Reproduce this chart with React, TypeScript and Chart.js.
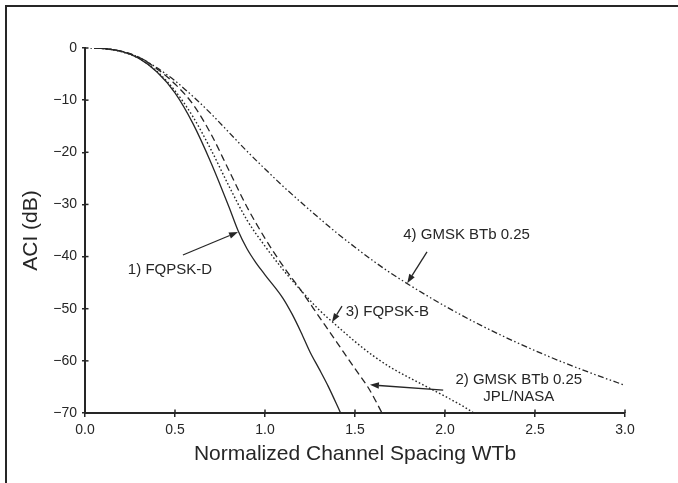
import React, { useEffect, useRef } from "react";
import { Chart, registerables } from "chart.js";

Chart.register(...registerables);

// Axis ticks
const xTickValues = [0, 0.5, 1.0, 1.5, 2.0, 2.5, 3.0];
const yTickValues = [0, -10, -20, -30, -40, -50, -60, -70];

// 1) FQPSK-D (solid)
const fqpskDX = [0.05, 0.1, 0.2, 0.3, 0.4, 0.5, 0.6, 0.7, 0.8, 0.85, 0.9, 0.95, 1.0, 1.1, 1.15, 1.2, 1.25, 1.3, 1.35, 1.42];
const fqpskDY = [0, -0.1, -0.6, -2.0, -4.6, -8.6, -14.5, -22, -30.5, -35, -38.5, -41.2, -43.5, -48, -51, -54.5, -58.3, -61.5, -64.8, -70];

// 2) GMSK BTb 0.25 JPL/NASA (dashed)
const gmskJplX = [0.05, 0.1, 0.2, 0.3, 0.4, 0.5, 0.6, 0.7, 0.8, 0.9, 1.0, 1.1, 1.2, 1.3, 1.4, 1.5, 1.58, 1.65];
const gmskJplY = [0, -0.1, -0.6, -1.8, -4, -6.9, -10.8, -16.5, -23.5, -30.5, -36.5, -41.8, -46.5, -51.5, -56.5, -61.5, -65.5, -70];

// 3) FQPSK-B (dotted)
const fqpskBX = [0.03, 0.1, 0.2, 0.3, 0.4, 0.5, 0.6, 0.7, 0.8, 0.9, 1.0, 1.1, 1.2, 1.3, 1.4, 1.5, 1.6, 1.7, 1.8, 1.9, 2.0, 2.1, 2.16];
const fqpskBY = [0, -0.1, -0.7, -2, -4.5, -8.2, -13.2, -19.5, -26.5, -33, -38, -42.5, -46.5, -50.2, -53.3, -56.3, -59, -61.3, -63.2, -65, -66.8, -68.7, -70];

// 4) GMSK BTb 0.25 (dash-dot-dot)
const gmskX = [0.05, 0.1, 0.2, 0.3, 0.4, 0.5, 0.6, 0.7, 0.8, 0.9, 1.0, 1.1, 1.2, 1.3, 1.4, 1.5, 1.6, 1.7, 1.8, 1.9, 2.0, 2.2, 2.4, 2.6, 2.8, 3.0];
const gmskY = [0, -0.1, -0.6, -1.8, -3.8, -6.3, -9.3, -12.6, -16.2, -19.8, -23.2, -26.5, -29.6, -32.6, -35.5, -38.2, -40.8, -43.2, -45.4, -47.5, -49.5, -53.2, -56.5, -59.5, -62.2, -64.7];

// Annotation labels (data coordinates)
const labelTexts = ["1) FQPSK-D", "2) GMSK BTb 0.25", "JPL/NASA", "3) FQPSK-B", "4) GMSK BTb 0.25"];
const labelX = [0.472, 2.41, 2.41, 1.68, 2.12];
const labelY = [-42.6, -63.7, -67.0, -50.6, -35.9];

// Arrows (data coordinates): from -> tip
const arrowFromX = [0.544, 1.99, 1.428, 1.9];
const arrowFromY = [-39.7, -65.6, -49.5, -39.1];
const arrowToX = [0.85, 1.583, 1.372, 1.79];
const arrowToY = [-35.3, -64.6, -52.6, -45.1];

const FONT = "'Liberation Sans', Arial, Helvetica, sans-serif";
const INK = "#262626";

const zip = (xs: number[], ys: number[]) => xs.map((x, i) => ({ x, y: ys[i] }));

const innerTicks = {
  id: "innerTicks",
  afterDraw(chart: any) {
    const ctx = chart.ctx;
    const xs = chart.scales.x;
    const ys = chart.scales.y;
    const area = chart.chartArea;
    ctx.save();
    ctx.strokeStyle = INK;
    ctx.lineWidth = 1.5;
    xTickValues.forEach((v) => {
      const px = xs.getPixelForValue(v);
      ctx.beginPath();
      ctx.moveTo(px, area.bottom);
      ctx.lineTo(px, area.bottom - 3.5);
      ctx.stroke();
    });
    yTickValues.forEach((v) => {
      const py = ys.getPixelForValue(v);
      ctx.beginPath();
      ctx.moveTo(area.left, py);
      ctx.lineTo(area.left + 3.5, py);
      ctx.stroke();
    });
    ctx.restore();
  },
};

const annotations = {
  id: "annotations",
  afterDraw(chart: any) {
    const ctx = chart.ctx;
    const xs = chart.scales.x;
    const ys = chart.scales.y;
    ctx.save();
    ctx.fillStyle = INK;
    ctx.font = `15px ${FONT}`;
    ctx.textAlign = "center";
    ctx.textBaseline = "middle";
    labelTexts.forEach((t, i) => {
      ctx.fillText(t, xs.getPixelForValue(labelX[i]), ys.getPixelForValue(labelY[i]));
    });
    ctx.strokeStyle = INK;
    ctx.lineWidth = 1.3;
    arrowFromX.forEach((_, i) => {
      const x0 = xs.getPixelForValue(arrowFromX[i]);
      const y0 = ys.getPixelForValue(arrowFromY[i]);
      const x1 = xs.getPixelForValue(arrowToX[i]);
      const y1 = ys.getPixelForValue(arrowToY[i]);
      const ang = Math.atan2(y1 - y0, x1 - x0);
      const hl = 9;
      const hw = 3.2;
      const bx = x1 - hl * Math.cos(ang);
      const by = y1 - hl * Math.sin(ang);
      ctx.beginPath();
      ctx.moveTo(x0, y0);
      ctx.lineTo(bx, by);
      ctx.stroke();
      ctx.beginPath();
      ctx.moveTo(x1, y1);
      ctx.lineTo(bx + hw * Math.sin(ang), by - hw * Math.cos(ang));
      ctx.lineTo(bx - hw * Math.sin(ang), by + hw * Math.cos(ang));
      ctx.closePath();
      ctx.fill();
    });
    ctx.restore();
  },
};

export default function App() {
  const canvasRef = useRef<HTMLCanvasElement | null>(null);

  useEffect(() => {
    if (!canvasRef.current) return;
    const common = { pointRadius: 0, borderColor: INK, fill: false, showLine: true, cubicInterpolationMode: "monotone" as const };
    const chart = new Chart(canvasRef.current, {
      type: "scatter",
      data: {
        datasets: [
          { ...common, label: "1) FQPSK-D", data: zip(fqpskDX, fqpskDY), borderWidth: 1.3 },
          { ...common, label: "2) GMSK BTb 0.25 JPL/NASA", data: zip(gmskJplX, gmskJplY), borderWidth: 1.3, borderDash: [7, 4] },
          { ...common, label: "3) FQPSK-B", data: zip(fqpskBX, fqpskBY), borderWidth: 1.4, borderDash: [1.6, 2.2] },
          { ...common, label: "4) GMSK BTb 0.25", data: zip(gmskX, gmskY), borderWidth: 1.3, borderDash: [6, 2.5, 1.5, 2.5, 1.5, 2.5] },
        ],
      },
      options: {
        animation: false,
        responsive: false,
        devicePixelRatio: 1,
        layout: { padding: { left: 0, right: 53, top: 48, bottom: 0 } },
        plugins: { legend: { display: false }, tooltip: { enabled: false } },
        scales: {
          x: {
            type: "linear",
            min: 0,
            max: 3,
            afterFit: (s: any) => { s.height = 70; },
            afterBuildTicks: (s: any) => { s.ticks = xTickValues.map((v) => ({ value: v })); },
            border: { display: true, color: INK, width: 2 },
            grid: { drawOnChartArea: false, drawTicks: true, tickLength: 4, color: INK, lineWidth: 1.5 },
            ticks: { color: INK, font: { family: FONT, size: 14 }, padding: 5, maxRotation: 0, callback: (v: any) => Number(v).toFixed(1) },
            title: { display: true, text: "Normalized Channel Spacing WTb", color: INK, font: { family: FONT, size: 21 }, padding: { top: 0, bottom: 16 } },
          },
          y: {
            type: "linear",
            min: -70,
            max: 0,
            afterFit: (s: any) => { s.width = 85; },
            afterBuildTicks: (s: any) => { s.ticks = yTickValues.map((v) => ({ value: v })); },
            border: { display: true, color: INK, width: 2 },
            grid: { drawOnChartArea: false, drawTicks: true, tickLength: 3, color: INK, lineWidth: 1.5 },
            ticks: { color: INK, font: { family: FONT, size: 14 }, padding: 5, callback: (v: any) => (v < 0 ? "\u2212" + Math.abs(v) : String(v)) },
            title: { display: true, text: "ACI (dB)", color: INK, font: { family: FONT, size: 21 }, padding: { top: 19, bottom: 0 } },
          },
        },
      },
      plugins: [innerTicks, annotations],
    });
    return () => chart.destroy();
  }, []);

  return (
    <div style={{ position: "fixed", left: 0, top: 0, width: 678, height: 483, background: "#fff" }}>
      <canvas ref={canvasRef} width={678} height={483} style={{ display: "block", width: 678, height: 483 }} />
      <div style={{ position: "absolute", left: 5, top: 5, right: 0, bottom: 0, borderTop: `2px solid ${INK}`, borderLeft: `2px solid ${INK}`, pointerEvents: "none" }} />
    </div>
  );
}
